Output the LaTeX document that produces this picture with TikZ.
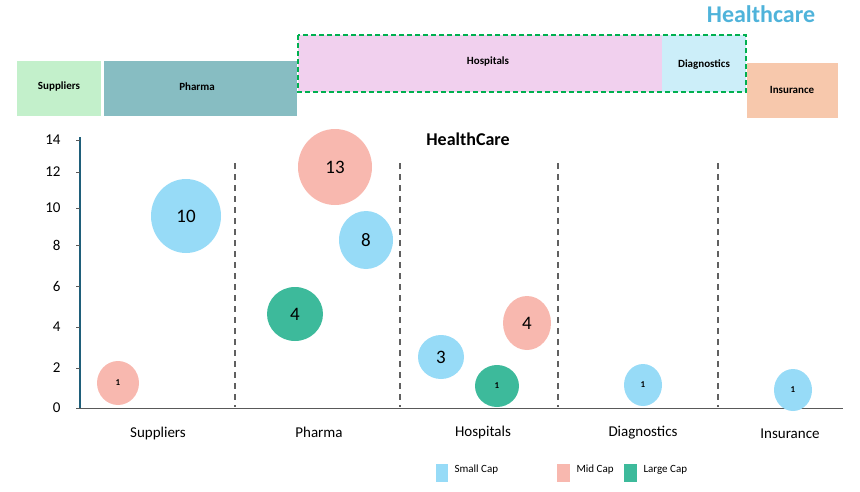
\documentclass[tikz,border=0pt]{standalone}
\usepackage{fontspec}
\setmainfont{Carlito}
\usetikzlibrary{shapes.geometric}
\definecolor{small}{HTML}{97DBF7}\definecolor{mid}{HTML}{F8B8AF}\definecolor{large}{HTML}{3DBA9B}
\definecolor{ax}{HTML}{1F5F7A}
\definecolor{csup}{HTML}{C3F0CB}\definecolor{cph}{HTML}{87BDC2}\definecolor{cho}{HTML}{F1D0EE}
\definecolor{cdi}{HTML}{CCEEF9}\definecolor{cin}{HTML}{F7C8AC}\definecolor{cgr}{HTML}{00B050}
\definecolor{ctt}{HTML}{4FB3DA}
\newcommand{\fs}[1]{\fontsize{#1}{#1}\selectfont}
\begin{document}
\begin{tikzpicture}[x=1pt,y=-1pt,
 box/.style={draw=none,font=\bfseries\fs{11},inner sep=0},
 bub/.style={ellipse,draw=none,inner sep=0},
 big/.style={font=\fs{19}}, one/.style={font=\bfseries\fs{9}},
 cat/.style={font=\fs{15}},
 tick/.style={font=\fs{15},anchor=east},
 sep/.style={draw=gray!75!black,line width=1.3pt,dash pattern=on 6pt off 5pt},
 leg/.style={font=\fs{11},anchor=west}]
\useasboundingbox (0,0) rectangle (860,491);
% top boxes
\fill[csup] (17,61) rectangle (101,116); \node[box] (sup) at (59,87) {Suppliers};
\fill[cph] (104,61) rectangle (297,116); \node[box] (ph) at (197,87) {Pharma};
\fill[cho] (298,35) rectangle (662,92); \node[box] (ho) at (488,62) {Hospitals};
\fill[cdi] (662,35) rectangle (746,92); \node[box] (di) at (704,65) {Diagnostics};
\draw[cgr,line width=1.5pt,dash pattern=on 5pt off 3pt] (298,35) rectangle (746,92);
\fill[cin] (747,63) rectangle (838,118); \node[box] (in) at (792,90) {Insurance};
\node[font=\bfseries\fs{24},text=ctt,draw=none] (tt) at (761,14) {Healthcare};
\node[font=\bfseries\fs{18}] (ct) at (468,139) {HealthCare};
% axes
\coordinate (y0) at (80,408); \coordinate (y1) at (80,137); \coordinate (x1) at (843,408);
\draw[ax,line width=1.5pt] (y0) -- (y1);
\draw[gray!70!black,line width=1pt] (y0) -- (x1);
\foreach \v/\y in {14/140,12/172,10/208,8/245,6/286,4/327,2/368,0/408}{
 \draw[gray!70!black] (76,\y) -- (80,\y);
 \node[tick] (t\v) at (64,\y) {\v};}
\foreach \x in {235,400,558,718}{\draw[sep] (\x,163) -- (\x,407);}
% bubbles
\node[bub,fill=mid,minimum width=42,minimum height=44,one] (b1) at (118,383) {1};
\node[bub,fill=small,minimum width=70,minimum height=74,big] (b2) at (186,216) {10};
\node[bub,fill=mid,minimum width=74,minimum height=76,big] (b3) at (335,167) {13};
\node[bub,fill=small,minimum width=54,minimum height=58,big] (b4) at (366,240) {8};
\node[bub,fill=large,minimum width=56,minimum height=54,big] (b5) at (295,314) {4};
\node[bub,fill=small,minimum width=46,minimum height=44,big] (b6) at (441,357) {3};
\node[bub,fill=large,minimum width=44,minimum height=42,one] (b7) at (497,386) {1};
\node[bub,fill=mid,minimum width=48,minimum height=54,big] (b8) at (527,323) {4};
\node[bub,fill=small,minimum width=38,minimum height=42,one] (b9) at (643,385) {1};
\node[bub,fill=small,minimum width=38,minimum height=42,one] (b10) at (793,390) {1};
% categories
\node[cat] (c1) at (158,433) {Suppliers};
\node[cat] (c2) at (319,432) {Pharma};
\node[cat] (c3) at (483,432) {Hospitals};
\node[cat] (c4) at (643,433) {Diagnostics};
\node[cat] (c5) at (790,434) {Insurance};
% legend
\fill[small] (436,464) rectangle (448,482); \node[leg] (l1) at (451,470) {Small Cap};
\fill[mid] (557,464) rectangle (570,482); \node[leg] (l2) at (573,470) {Mid Cap};
\fill[large] (624,464) rectangle (637,482); \node[leg] (l3) at (640,470) {Large Cap};
\end{tikzpicture}
\end{document}
